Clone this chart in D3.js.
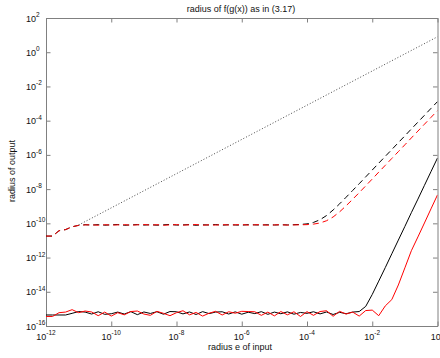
<!DOCTYPE html>
<html>
<head>
<meta charset="utf-8">
<script src="https://cdn.jsdelivr.net/npm/d3@7"></script>
<style>
  body { margin: 0; background: #fff; }
  text { font-family: "Liberation Sans", Arial, sans-serif; fill: #111; }
</style>
</head>
<body>
<svg id="chart" width="440" height="358"></svg>
<script>
// sample grid, 5 points per decade
const xs = [
  1e-12, 1.58e-12, 2.51e-12, 3.98e-12, 6.31e-12,
  1e-11, 1.58e-11, 2.51e-11, 3.98e-11, 6.31e-11,
  1e-10, 1.58e-10, 2.51e-10, 3.98e-10, 6.31e-10,
  1e-9, 1.58e-9, 2.51e-9, 3.98e-9, 6.31e-9,
  1e-8, 1.58e-8, 2.51e-8, 3.98e-8, 6.31e-8,
  1e-7, 1.58e-7, 2.51e-7, 3.98e-7, 6.31e-7,
  1e-6, 1.58e-6, 2.51e-6, 3.98e-6, 6.31e-6,
  1e-5, 1.58e-5, 2.51e-5, 3.98e-5, 6.31e-5,
  1e-4, 1.58e-4, 2.51e-4, 3.98e-4, 6.31e-4,
  1e-3, 1.58e-3, 2.51e-3, 3.98e-3, 6.31e-3,
  1e-2, 1.58e-2, 2.51e-2, 3.98e-2, 6.31e-2,
  1e-1, 1.58e-1, 2.51e-1, 3.98e-1, 6.31e-1,
  1
];

const blackDashed = [
  1.8e-11, 1.8e-11, 3.7e-11, 4.3e-11, 6.3e-11,
  7.6e-11, 8.3e-11, 7.9e-11, 8.4e-11, 7.8e-11,
  8.2e-11, 8.5e-11, 7.7e-11, 8.1e-11, 8.4e-11,
  7.9e-11, 8.3e-11, 7.8e-11, 8.2e-11, 8.6e-11,
  7.9e-11, 8.1e-11, 8.4e-11, 7.7e-11, 8.2e-11,
  8e-11, 8.5e-11, 7.8e-11, 8.3e-11, 8e-11,
  7.8e-11, 8.4e-11, 8.1e-11, 7.9e-11, 8.3e-11,
  8e-11, 8.2e-11, 8.1e-11, 8.3e-11, 8.6e-11,
  9.3e-11, 1.13e-10, 1.62e-10, 2.86e-10, 6e-10,
  1.38e-9, 3.35e-9, 8.3e-9, 2.06e-8, 5.2e-8,
  1.3e-7, 3.27e-7, 8.2e-7, 2.06e-6, 5.2e-6,
  1.3e-5, 3.27e-5, 8.2e-5, 2.06e-4, 5.2e-4,
  1.3e-3
];

const redDashed = [
  1.8e-11, 1.8e-11, 3.7e-11, 4.3e-11, 6.3e-11,
  7.6e-11, 8.1e-11, 8.2e-11, 7.8e-11, 8.3e-11,
  7.9e-11, 8.1e-11, 8.4e-11, 7.8e-11, 8.2e-11,
  8.5e-11, 7.9e-11, 8.3e-11, 7.7e-11, 8.1e-11,
  8.4e-11, 7.9e-11, 8.2e-11, 8.5e-11, 7.8e-11,
  8.2e-11, 7.9e-11, 8.4e-11, 8e-11, 8.2e-11,
  8.5e-11, 7.9e-11, 8.2e-11, 8.4e-11, 7.8e-11,
  8.1e-11, 8.3e-11, 7.9e-11, 8.1e-11, 8.2e-11,
  8.4e-11, 9e-11, 1.05e-10, 1.42e-10, 2.35e-10,
  4.7e-10, 1.06e-9, 2.54e-9, 6.2e-9, 1.55e-8,
  3.9e-8, 9.8e-8, 2.46e-7, 6.2e-7, 1.55e-6,
  3.9e-6, 9.8e-6, 2.46e-5, 6.2e-5, 1.55e-4,
  3.9e-4
];

const blackSolid = [
  4.4e-16, 4.4e-16, 4.4e-16, 4.4e-16, 5.5e-16,
  7e-16, 6.5e-16, 5e-16, 6.8e-16, 4.8e-16,
  5.2e-16, 6.5e-16, 5e-16, 6.9e-16, 4.6e-16,
  6.6e-16, 5.4e-16, 6.8e-16, 4.9e-16, 7e-16,
  6.8e-16, 5.1e-16, 6.6e-16, 4.7e-16, 6.9e-16,
  5.3e-16, 6.5e-16, 6.8e-16, 5e-16, 6.7e-16,
  4.9e-16, 6.4e-16, 5.3e-16, 6.9e-16, 4.8e-16,
  6.5e-16, 5.2e-16, 6.7e-16, 4.9e-16, 6.2e-16,
  5.5e-16, 6.8e-16, 5.1e-16, 6.6e-16, 4.7e-16,
  6.3e-16, 5.2e-16, 6.5e-16, 7e-16, 1.4e-15,
  7e-15, 4.2e-14, 2.6e-13, 1.66e-12, 1.05e-11,
  6.6e-11, 4.2e-10, 2.6e-9, 1.66e-8, 1.05e-7,
  6.6e-7
];

const redSolid = [
  3.6e-16, 3.6e-16, 6e-16, 6.5e-16, 9e-16,
  6e-16, 7.5e-16, 6.6e-16, 4e-16, 6.5e-16,
  3.8e-16, 6e-16, 4.5e-16, 7e-16, 7.5e-16,
  5e-16, 4.2e-16, 7.2e-16, 5.5e-16, 4e-16,
  6e-16, 7.8e-16, 4.5e-16, 6.2e-16, 3.8e-16,
  5.6e-16, 7.2e-16, 4.4e-16, 6.8e-16, 5.6e-16,
  7.2e-16, 7e-16, 6.8e-16, 4.2e-16, 6.5e-16,
  3.9e-16, 7e-16, 4.5e-16, 6.8e-16, 3.6e-16,
  6.9e-16, 4.2e-16, 7e-16, 7.8e-16, 3.7e-16,
  7.2e-16, 5e-16, 6.5e-16, 3.8e-16, 8e-16,
  8.5e-16, 4e-16, 1.5e-15, 3.5e-15, 2.5e-14,
  2.5e-13, 2.5e-12, 1.6e-11, 1.05e-10, 7e-10,
  4.6e-9
];

// reference line (dotted)
const dottedX = [1e-11, 1];
const dottedY = [8e-11, 8];

const xTicks = [1e-12, 1e-10, 1e-8, 1e-6, 1e-4, 1e-2, 1e0];
const xTickExp = ["-12", "-10", "-8", "-6", "-4", "-2", "0"];
const yTicks = [1e-16, 1e-14, 1e-12, 1e-10, 1e-8, 1e-6, 1e-4, 1e-2, 1e0, 1e2];
const yTickExp = ["-16", "-14", "-12", "-10", "-8", "-6", "-4", "-2", "0", "2"];

const titleText = "radius of f(g(x)) as in (3.17)";
const xLabel = "radius e of input";
const yLabel = "radius of output";

const svg = d3.select("#chart");
const mLeft = 46, mRight = 437.5, mTop = 18, mBottom = 326;

const x = d3.scaleLog().domain([1e-12, 1]).range([mLeft, mRight]);
const y = d3.scaleLog().domain([1e-16, 1e2]).range([mBottom, mTop]);

svg.append("defs").append("clipPath").attr("id", "plotClip")
  .append("rect")
  .attr("x", mLeft).attr("y", mTop)
  .attr("width", mRight - mLeft).attr("height", mBottom - mTop);

const axisColor = "#808080";
const tk = 4.5;

function styleAxis(g) {
  g.selectAll("path.domain").attr("stroke", axisColor);
  g.selectAll(".tick line").attr("stroke", axisColor);
  g.selectAll(".tick text").remove();
}

svg.append("g").attr("transform", `translate(0,${mBottom})`)
  .call(d3.axisBottom(x).tickValues(xTicks).tickSize(-tk).tickSizeOuter(0).tickFormat(""))
  .call(styleAxis);
svg.append("g").attr("transform", `translate(0,${mTop})`)
  .call(d3.axisTop(x).tickValues(xTicks).tickSize(-tk).tickSizeOuter(0).tickFormat(""))
  .call(styleAxis);
svg.append("g").attr("transform", `translate(${mLeft},0)`)
  .call(d3.axisLeft(y).tickValues(yTicks).tickSize(-tk).tickSizeOuter(0).tickFormat(""))
  .call(styleAxis);
svg.append("g").attr("transform", `translate(${mRight},0)`)
  .call(d3.axisRight(y).tickValues(yTicks).tickSize(-tk).tickSizeOuter(0).tickFormat(""))
  .call(styleAxis);

// tick labels with superscript exponents
xTicks.forEach((v, i) => {
  const t = svg.append("text")
    .attr("x", x(v)).attr("y", 339.5)
    .attr("text-anchor", "middle")
    .style("font-size", "9px");
  t.append("tspan").text("10");
  t.append("tspan").attr("dy", -4.5).style("font-size", "6.5px").text(xTickExp[i]);
});
yTicks.forEach((v, i) => {
  const t = svg.append("text")
    .attr("x", 26).attr("y", y(v) + 3.5)
    .style("font-size", "9px");
  t.append("tspan").text("10");
  t.append("tspan").attr("dy", -4.5).style("font-size", "6.5px").text(yTickExp[i]);
});

svg.append("text").attr("x", 241).attr("y", 12)
  .attr("text-anchor", "middle").style("font-size", "9px").text(titleText);
svg.append("text").attr("x", 240).attr("y", 350)
  .attr("text-anchor", "middle").style("font-size", "9px").text(xLabel);
svg.append("text")
  .attr("transform", "translate(15,171) rotate(-90)")
  .attr("text-anchor", "middle").style("font-size", "9px").text(yLabel);

const plot = svg.append("g").attr("clip-path", "url(#plotClip)");
const line = d3.line().x(d => x(d[0])).y(d => y(d[1]));

function addSeries(xv, yv, color, dash, width) {
  plot.append("path")
    .datum(xv.map((d, i) => [d, yv[i]]))
    .attr("fill", "none")
    .attr("stroke", color)
    .attr("stroke-width", width)
    .attr("stroke-dasharray", dash)
    .attr("d", line);
}

addSeries(dottedX, dottedY, "#333", "1,2", 0.9);
addSeries(xs, blackDashed, "#000", "6,4", 1);
addSeries(xs, redDashed, "#f00", "6,4", 1);
addSeries(xs, blackSolid, "#000", null, 1);
addSeries(xs, redSolid, "#f00", null, 1);
</script>
</body>
</html>
